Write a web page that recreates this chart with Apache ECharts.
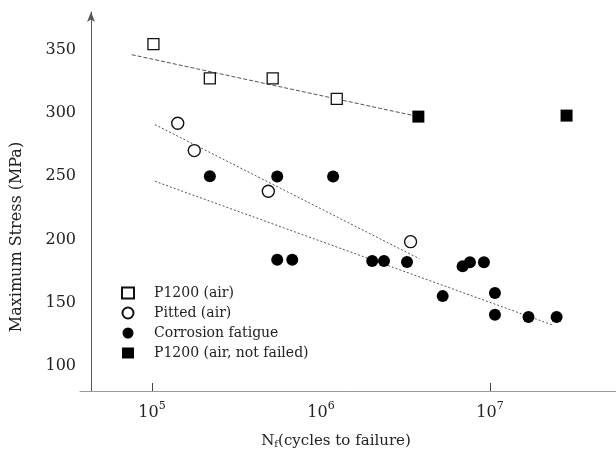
<!DOCTYPE html>
<html><head><meta charset="utf-8">
<script src="https://cdn.jsdelivr.net/npm/echarts@6/dist/echarts.min.js"></script>
<style>html,body{margin:0;padding:0;background:#fff}#c{width:616px;height:475px}</style>
</head><body><div id="c"></div>
<script>
const seriesNames = ['P1200 (air)', 'Pitted (air)', 'Corrosion fatigue', 'P1200 (air, not failed)'];
const p1200Air = [[1.02e5, 354.6], [2.20e5, 327.5], [5.18e5, 327.5], [1.24e6, 311.2]];
const pittedAir = [[1.42e5, 291.9], [1.78e5, 270.3], [4.88e5, 238.1], [3.39e6, 198.2]];
const corrosion = [[2.20e5, 250], [5.51e5, 249.7], [1.18e6, 249.7], [5.51e5, 183.9], [6.76e5, 183.9],
  [2.01e6, 182.9], [2.36e6, 182.9], [3.23e6, 182.2], [5.25e6, 155.1], [6.89e6, 178.8], [7.61e6, 182.0],
  [9.21e6, 182.0], [1.07e7, 157.5], [1.07e7, 140.4], [1.69e7, 138.5], [2.48e7, 138.5]];
const p1200NotFailed = [[3.77e6, 297.2], [2.84e7, 298]];
const fitP1200 = [[7.59e4, 346.2], [3.77e6, 297.2]];
const fitPitted = [[1.04e5, 290.9], [3.82e6, 184.7]];
const fitCorrosion = [[1.04e5, 246], [2.32e7, 132.5]];
const xTickLabels = [1e5, 1e6, 1e7];
const xTickMarks = [1e5, 1e7];
const yTickLabels = [100, 150, 200, 250, 300, 350];

const FONT = 'DejaVu Serif';
const Y_MIN = 80, Y_MAX = 380;
const chart = echarts.init(document.getElementById('c'), null, {renderer: 'canvas'});
const fitLine = (data, dash) => ({
  type: 'line', data, showSymbol: false, silent: true, z: 1,
  lineStyle: {color: '#555', width: 1, type: dash}
});
chart.setOption({
  animation: false,
  backgroundColor: '#fff',
  textStyle: {fontFamily: FONT, color: '#222'},
  grid: {left: 80, right: 0, top: 12, bottom: 84, containLabel: false},
  xAxis: {
    type: 'log', logBase: 10, min: 37500, max: 5.57e7,
    splitLine: {show: false},
    axisLine: {lineStyle: {color: '#999', width: 1}},
    axisTick: {show: false},
    minorTick: {show: false},
    axisLabel: {
      customValues: xTickLabels, margin: 10,
      formatter: v => '{a|10}{b|' + Math.round(Math.log10(v)) + '}',
      rich: {
        a: {fontFamily: FONT, fontSize: 16, color: '#222', lineHeight: 20, verticalAlign: 'bottom'},
        b: {fontFamily: FONT, fontSize: 11, color: '#222', lineHeight: 11, verticalAlign: 'top'}
      }
    },
    name: '{n|N}{s|f}{n|(cycles to failure)}',
    nameLocation: 'middle', nameGap: 38,
    nameTextStyle: {
      padding: [0, 24, 0, 0],
      rich: {
        n: {fontFamily: FONT, fontSize: 15, color: '#222', lineHeight: 20, verticalAlign: 'bottom'},
        s: {fontFamily: FONT, fontSize: 10, color: '#222', lineHeight: 10, verticalAlign: 'bottom'}
      }
    }
  },
  yAxis: {
    type: 'value', min: Y_MIN, max: Y_MAX, interval: 10, offset: -11,
    splitLine: {show: false},
    axisLine: {show: true, lineStyle: {color: '#555', width: 1}, symbol: ['none', 'arrow'], symbolSize: [6, 10]},
    axisTick: {show: false},
    axisLabel: {customValues: yTickLabels, margin: 15, fontFamily: FONT, fontSize: 16, color: '#222'}
  },
  legend: {
    orient: 'vertical', left: 116, top: 281,
    data: seriesNames, itemWidth: 12, itemHeight: 11, itemGap: 6,
    textStyle: {fontFamily: FONT, fontSize: 14, color: '#222', lineHeight: 14, padding: [0, 0, 0, 15]}
  },
  graphic: [{
    type: 'text', x: 17, y: 237, rotation: Math.PI / 2,
    style: {text: 'Maximum Stress (MPa)', font: '16px "DejaVu Serif"', fill: '#222', align: 'center', verticalAlign: 'middle'}
  }],
  series: [
    Object.assign(fitLine(fitP1200, [4, 2]), {
      markLine: {
        silent: true, symbol: 'none', animation: false,
        label: {show: false},
        lineStyle: {color: '#444', width: 1, type: 'solid'},
        emphasis: {disabled: true},
        data: xTickMarks.map(v => [{coord: [v, Y_MIN]}, {coord: [v, Y_MIN + (Y_MAX - Y_MIN) * 8 / 379]}])
      }
    }),
    fitLine(fitPitted, [2, 2]),
    fitLine(fitCorrosion, [2, 2]),
    {name: seriesNames[0], type: 'scatter', data: p1200Air, symbol: 'rect', symbolSize: 11, z: 3,
      itemStyle: {color: '#fff', borderColor: '#111', borderWidth: 1.3, opacity: 1}},
    {name: seriesNames[1], type: 'scatter', data: pittedAir, symbol: 'circle', symbolSize: 12, z: 3,
      itemStyle: {color: '#fff', borderColor: '#111', borderWidth: 1.4, opacity: 1}},
    {name: seriesNames[2], type: 'scatter', data: corrosion, symbol: 'circle', symbolSize: 12, z: 3,
      itemStyle: {color: '#000', opacity: 1}},
    {name: seriesNames[3], type: 'scatter', data: p1200NotFailed, symbol: 'rect', symbolSize: 12, z: 3,
      itemStyle: {color: '#000', opacity: 1}}
  ]
});
</script></body></html>
